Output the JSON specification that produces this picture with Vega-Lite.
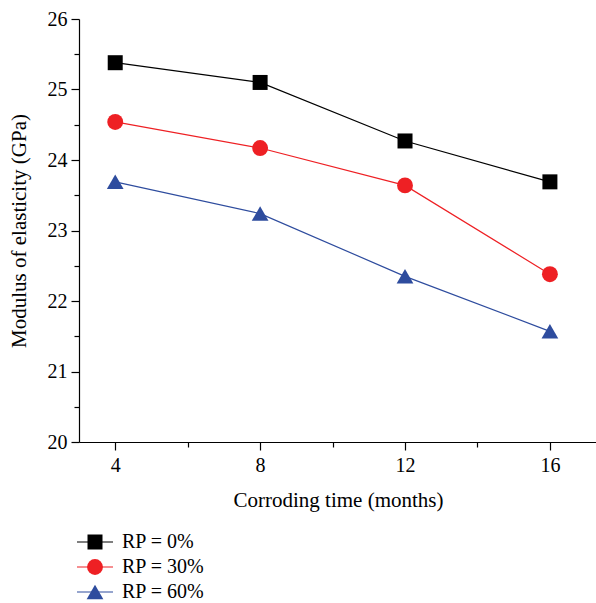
{
  "$schema": "https://vega.github.io/schema/vega-lite/v6.json",
  "autosize": "none",
  "padding": {"left": 79, "top": 19, "right": 0, "bottom": 161},
  "width": 518,
  "height": 423,
  "config": {
    "view": {"stroke": null},
    "font": "'Liberation Serif', serif",
    "axis": {"grid": false, "domainColor": "#000", "tickColor": "#000", "labelColor": "#000", "titleColor": "#000", "labelFont": "'Liberation Serif', serif", "titleFont": "'Liberation Serif', serif", "labelFontSize": 20, "titleFontSize": 21, "titleFontWeight": "normal", "domainWidth": 1.2, "tickWidth": 1.2},
    "legend": {"labelFont": "'Liberation Serif', serif", "labelFontSize": 20, "labelColor": "#000"}
  },
  "data": {"values": [
    {"t": 4, "e": 25.38, "s": "RP = 0%", "g": "RP = 0%"},
    {"t": 8, "e": 25.10, "s": "RP = 0%", "g": "RP = 0%"},
    {"t": 12, "e": 24.27, "s": "RP = 0%", "g": "RP = 0%"},
    {"t": 16, "e": 23.69, "s": "RP = 0%", "g": "RP = 0%"},
    {"t": 4, "e": 24.54, "s": "RP = 30%", "g": "RP = 30%"},
    {"t": 8, "e": 24.17, "s": "RP = 30%", "g": "RP = 30%"},
    {"t": 12, "e": 23.64, "s": "RP = 30%", "g": "RP = 30%"},
    {"t": 16, "e": 22.38, "s": "RP = 30%", "g": "RP = 30%"},
    {"t": 4, "e": 23.69, "s": "RP = 60%", "g": "RP = 60%"},
    {"t": 8, "e": 23.24, "s": "RP = 60%", "g": "RP = 60%"},
    {"t": 12, "e": 22.35, "s": "RP = 60%", "g": "RP = 60%"},
    {"t": 16, "e": 21.57, "s": "RP = 60%", "g": "RP = 60%"}
  ]},
  "resolve": {"axis": {"x": "independent", "y": "independent"}},
  "layer": [
    {
      "mark": {"type": "line", "strokeWidth": 1.2},
      "encoding": {
        "x": {"field": "t", "type": "quantitative", "scale": {"domain": [3, 17.3], "nice": false, "zero": false},
              "axis": {"orient": "bottom", "values": [4, 8, 12, 16], "title": "Corroding time (months)", "tickSize": 8, "labelPadding": 5, "titlePadding": 14}},
        "y": {"field": "e", "type": "quantitative", "scale": {"domain": [20, 26], "nice": false, "zero": false},
              "axis": {"orient": "left", "values": [20, 21, 22, 23, 24, 25, 26], "title": "Modulus of elasticity (GPa)", "tickSize": 8, "labelPadding": 4, "titlePadding": 18}},
        "stroke": {"field": "g", "type": "nominal",
                   "scale": {"range": ["#000000", "#ee2024", "#2e4c9e"]},
                   "legend": {"orient": "none", "legendX": -3, "legendY": 513, "title": null, "symbolType": "stroke", "symbolSize": 1296, "symbolStrokeWidth": 1.2, "labelOffset": 8, "rowPadding": 5, "clipHeight": 20}}
      }
    },
    {
      "mark": {"type": "point", "filled": true, "opacity": 1},
      "encoding": {
        "x": {"field": "t", "type": "quantitative",
              "axis": {"orient": "bottom", "values": [6, 10, 14], "labels": false, "title": null, "tickSize": 5, "domain": false}},
        "y": {"field": "e", "type": "quantitative",
              "axis": {"orient": "left", "values": [20.5, 21.5, 22.5, 23.5, 24.5, 25.5], "labels": false, "title": null, "tickSize": 5, "domain": false}},
        "color": {"field": "s", "type": "nominal",
                  "scale": {"domain": ["RP = 0%", "RP = 30%", "RP = 60%"], "range": ["#000000", "#ee2024", "#2e4c9e"]},
                  "legend": {"orient": "none", "legendX": 6, "legendY": 513, "title": null, "symbolSize": 170, "labelExpr": "''", "labelOffset": 8, "rowPadding": 5, "clipHeight": 20, "symbolOpacity": 1}},
        "shape": {"field": "s", "type": "nominal",
                  "scale": {"domain": ["RP = 0%", "RP = 30%", "RP = 60%"], "range": ["square", "circle", "triangle-up"]}},
        "size": {"field": "s", "type": "nominal",
                 "scale": {"domain": ["RP = 0%", "RP = 30%", "RP = 60%"], "range": [225, 280, 420]}, "legend": null}
      }
    }
  ]
}
